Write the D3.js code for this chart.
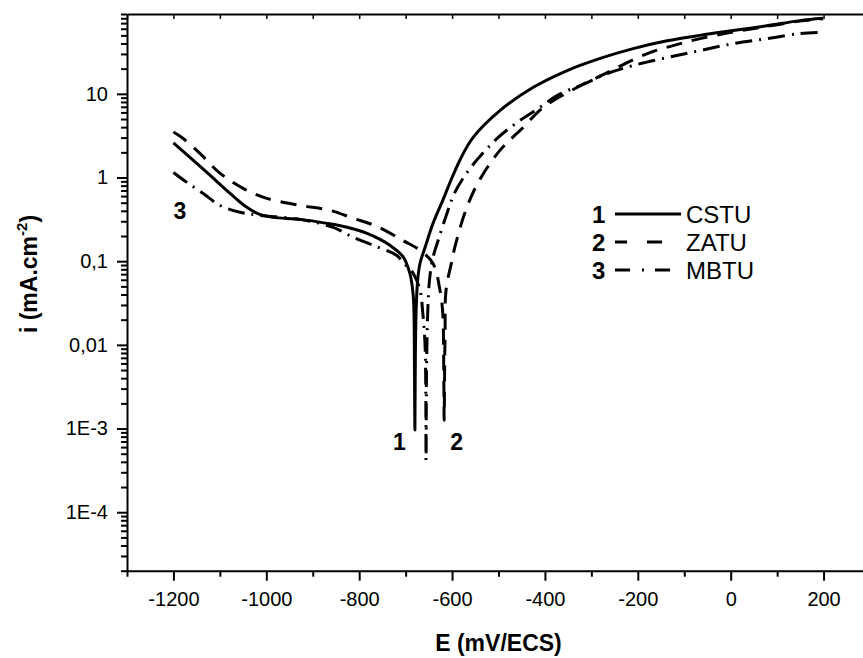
<!DOCTYPE html>
<html>
<head>
<meta charset="utf-8">
<script src="https://cdn.jsdelivr.net/npm/d3@7"></script>
<style>
  html, body { margin: 0; padding: 0; background: #fff; }
  svg { display: block; }
  text { font-family: "Liberation Sans", Arial, Helvetica, sans-serif; fill: #000; }
</style>
</head>
<body>
<svg id="chart" width="863" height="658"></svg>
<script>
// Polarisation curves: potential E (mV/ECS) vs current density i (mA.cm-2)
// Each curve: cathodic branch down to Ecorr, then anodic branch back up.
const cstuE = [-1200, -1128, -1078, -1042, -1014, -986, -927, -869, -826, -783, -755, -734, -706, -691, -684, -682, -681, -680,
               -679, -677, -674, -669, -658, -641, -620, -600, -580, -555, -497, -426, -352, -281, -210, -137, -66, 5, 78, 149, 199];
const cstuI = [2.6, 1.15, 0.646, 0.44, 0.362, 0.334, 0.316, 0.283, 0.254, 0.215, 0.182, 0.155, 0.114, 0.072, 0.041, 0.024, 0.006, 0.00096,
               0.008, 0.03, 0.06, 0.0945, 0.147, 0.283, 0.533, 1.0, 1.75, 3.0, 6.3, 11.9, 19, 26.5, 34.7, 43, 50, 57, 65, 75, 80];

const zatuE = [-1200, -1179, -1143, -1100, -1050, -999, -927, -863, -813, -762, -706, -669, -641, -626, -620, -618, -617,
               -616, -615, -613, -600, -594, -572, -545, -497, -447, -404, -331, -266, -223, -174, -124, -66, 5, 78, 149, 199];
const zatuI = [3.5, 2.93, 1.94, 1.13, 0.741, 0.564, 0.465, 0.405, 0.326, 0.261, 0.177, 0.135, 0.094, 0.045, 0.0239, 0.006, 0.00126,
               0.005, 0.015, 0.045, 0.103, 0.147, 0.384, 0.85, 2.11, 3.96, 6.87, 11.9, 17.9, 23.6, 31.1, 37.7, 45.7, 55, 64, 74, 79];

const mbtuE = [-1200, -1171, -1136, -1100, -1057, -1014, -927, -856, -813, -770, -719, -706, -684, -669, -663, -658, -656,
               -655, -652, -648, -641, -630, -611, -594, -561, -503, -454, -411, -374, -309, -266, -210, -137, -66, 5, 78, 149, 192];
const mbtuI = [1.15, 0.875, 0.646, 0.465, 0.384, 0.353, 0.316, 0.254, 0.193, 0.155, 0.117, 0.097, 0.072, 0.045, 0.0239, 0.0094, 0.00042,
               0.005, 0.028, 0.064, 0.111, 0.177, 0.372, 0.664, 1.29, 2.93, 4.8, 6.87, 9.55, 13.6, 17.5, 21.8, 27.1, 32.9, 39.8, 45.7, 52.5, 54.3];

const seriesNames = ["CSTU", "ZATU", "MBTU"];
const seriesNums = ["1", "2", "3"];

const xTicks = [-1200, -1000, -800, -600, -400, -200, 0, 200];
const xTickLabels = ["-1200", "-1000", "-800", "-600", "-400", "-200", "0", "200"];
const yTicks = [10, 1, 0.1, 0.01, 0.001, 0.0001];
const yTickLabels = ["10", "1", "0,1", "0,01", "1E-3", "1E-4"];

const svg = d3.select("#chart");
const pLeft = 127, pTop = 14, pRight = 870, pBottom = 570.7;

const x = d3.scaleLinear().domain([-1300, 300]).range([pLeft, pRight]);
const y = d3.scaleLog().domain([2e-5, 90]).range([pBottom, pTop]);

// Line styles per series: solid, dashed, dash-dot
const dashes = [null, "16,10", "17,7,2,7"];
const series = [
  { E: cstuE, I: cstuI },
  { E: zatuE, I: zatuI },
  { E: mbtuE, I: mbtuI }
];

const line = d3.line()
  .x(d => x(d[0]))
  .y(d => y(d[1]))
  .curve(d3.curveCatmullRom.alpha(0.5));

const plot = svg.append("g");
plot.append("clipPath").attr("id", "clip")
  .append("rect").attr("x", pLeft).attr("y", pTop).attr("width", pRight - pLeft).attr("height", pBottom - pTop);

const curves = plot.append("g").attr("clip-path", "url(#clip)");
series.forEach((s, k) => {
  const pts = s.E.map((e, j) => [e, s.I[j]]);
  curves.append("path")
    .attr("d", line(pts))
    .attr("fill", "none")
    .attr("stroke", "#000")
    .attr("stroke-width", 3)
    .attr("stroke-linejoin", "round")
    .attr("stroke-dasharray", dashes[k]);
});

// Axes
const minorX = d3.range(-1300, 301, 100);
const xAxis = d3.axisBottom(x).tickValues(xTicks).tickSize(10).tickSizeOuter(0).tickPadding(11)
  .tickFormat((d, i) => xTickLabels[i]);
const gx = svg.append("g").attr("transform", `translate(0,${pBottom})`).call(xAxis);
gx.select(".domain").attr("stroke-width", 2);
gx.selectAll(".tick line").attr("stroke-width", 2);
gx.selectAll(".tick text").attr("font-size", 20).attr("dy", "0.71em");
svg.append("g").attr("transform", `translate(0,${pBottom})`)
  .call(d3.axisBottom(x).tickValues(minorX.filter(v => !xTicks.includes(v))).tickSize(6).tickFormat(""))
  .call(g => g.select(".domain").remove())
  .selectAll(".tick line").attr("stroke-width", 2);

const minorY = [];
for (let p = -5; p <= 1; p++) {
  for (let k = 2; k <= 9; k++) {
    const v = k * Math.pow(10, p);
    if (v >= 2e-5 && v <= 90) minorY.push(v);
  }
}
const yAxis = d3.axisLeft(y).tickValues(yTicks).tickSize(10).tickSizeOuter(0).tickPadding(9)
  .tickFormat((d, i) => yTickLabels[i]);
const gy = svg.append("g").attr("transform", `translate(${pLeft},0)`).call(yAxis);
gy.select(".domain").attr("stroke-width", 2);
gy.selectAll(".tick line").attr("stroke-width", 2);
gy.selectAll(".tick text").attr("font-size", 20);
svg.append("g").attr("transform", `translate(${pLeft},0)`)
  .call(d3.axisLeft(y).tickValues(minorY).tickSize(6).tickFormat(""))
  .call(g => g.select(".domain").remove())
  .selectAll(".tick line").attr("stroke-width", 2);

// Top and right frame with inward ticks
svg.append("g").attr("transform", `translate(0,${pTop})`)
  .call(d3.axisTop(x).tickValues(minorX).tickSize(-5).tickSizeOuter(0).tickFormat(""))
  .call(g => g.select(".domain").attr("stroke-width", 2))
  .selectAll(".tick line").attr("stroke-width", 1.5);
svg.append("g").attr("transform", `translate(${pRight},0)`)
  .call(d3.axisRight(y).tickValues(yTicks.concat(minorY)).tickSize(-5).tickSizeOuter(0).tickFormat(""))
  .call(g => g.select(".domain").attr("stroke-width", 2))
  .selectAll(".tick line").attr("stroke-width", 1.5);

// Axis titles
svg.append("text")
  .attr("x", (pLeft + pRight) / 2).attr("y", 651)
  .attr("text-anchor", "middle").attr("font-size", 23).attr("font-weight", "bold")
  .text("E (mV/ECS)");

const yt = svg.append("text")
  .attr("transform", `translate(37,274) rotate(-90)`)
  .attr("text-anchor", "middle").attr("font-size", 23).attr("font-weight", "bold");
yt.append("tspan").text("i (mA.cm");
yt.append("tspan").attr("font-size", 15).attr("dy", -10).text("-2");
yt.append("tspan").attr("dy", 10).text(")");

// Curve labels
const curveLabels = [
  { t: "3", E: -1200, I: 0.316 },
  { t: "1", E: -727, I: 0.00055 },
  { t: "2", E: -604, I: 0.00055 }
];
svg.selectAll("text.clab").data(curveLabels).join("text")
  .attr("class", "clab")
  .attr("x", d => x(d.E)).attr("y", d => y(d.I))
  .attr("font-size", 23).attr("font-weight", "bold")
  .text(d => d.t);

// Legend
const leg = svg.append("g");
const legY = [214, 242, 270];
const legDash = [null, "12,20,15,40", "15,12,2,11,15,40"];
seriesNames.forEach((name, k) => {
  leg.append("text").attr("x", 592).attr("y", legY[k] + 9)
    .attr("font-size", 24).attr("font-weight", "bold").text(seriesNums[k]);
  leg.append("line").attr("x1", 615).attr("x2", 681).attr("y1", legY[k]).attr("y2", legY[k])
    .attr("stroke", "#000").attr("stroke-width", 3).attr("stroke-dasharray", legDash[k]);
  leg.append("text").attr("x", 686).attr("y", legY[k] + 9)
    .attr("font-size", 24).text(name);
});
</script>
</body>
</html>
